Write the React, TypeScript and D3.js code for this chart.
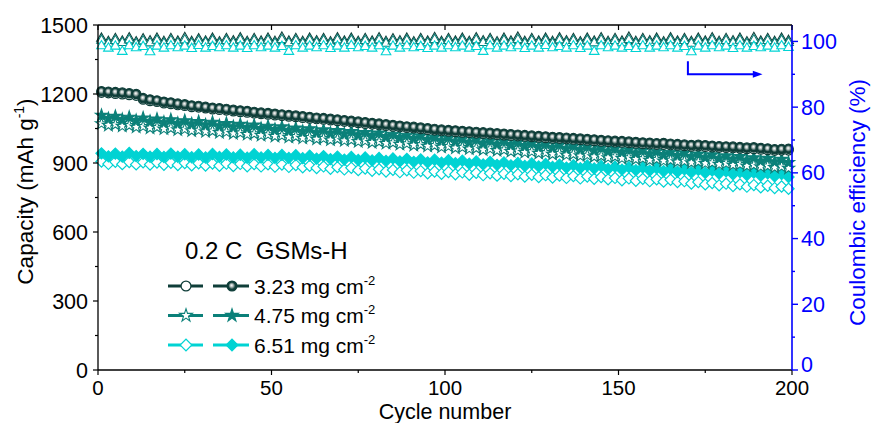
import React from 'react';
import * as d3 from 'd3';

// ---------- data ----------
const cycleNumbers: number[] = d3.range(1, 200, 2);

const cap323Discharge = [
  1212,1210,1208,1206,1203,1200,1182,1176,1172,1166,
  1163,1158,1155,1150,1148,1144,1140,1138,1135,1131,
  1128,1126,1122,1119,1117,1114,1111,1108,1106,1103,
  1100,1097,1095,1092,1089,1086,1083,1080,1077,1074,
  1071,1068,1065,1062,1059,1057,1054,1051,1048,1045,
  1043,1041,1039,1037,1035,1033,1031,1029,1027,1025,
  1023,1021,1019,1017,1015,1013,1012,1010,1008,1006,
  1004,1002,1000,998,996,995,993,991,989,988,
  986,987,984,982,980,978,979,977,975,973,
  972,971,969,967,968,965,963,960,961,962
];
const cap323Charge = [
  1206,1204,1201,1199,1196,1193,1176,1170,1166,1160,
  1157,1152,1149,1144,1142,1138,1134,1132,1129,1125,
  1122,1120,1116,1113,1111,1108,1105,1102,1100,1097,
  1094,1091,1089,1086,1083,1080,1077,1074,1071,1068,
  1065,1062,1059,1056,1053,1051,1048,1045,1042,1039,
  1037,1035,1033,1031,1029,1027,1025,1023,1021,1019,
  1017,1015,1013,1011,1009,1007,1006,1004,1002,1000,
  998,996,994,992,990,989,987,985,983,982,
  980,980,978,976,974,972,973,971,969,967,
  966,965,963,961,961,959,957,954,955,955
];
const cap475Discharge = [
  1107,1093,1103,1089,1099,1085,1096,1081,1091,1077,
  1088,1073,1084,1070,1080,1066,1077,1062,1072,1058,
  1068,1054,1065,1050,1060,1046,1057,1042,1052,1038,
  1049,1034,1044,1030,1041,1027,1037,1023,1033,1019,
  1030,1015,1025,1011,1021,1007,1018,1003,1013,999,
  1010,995,1005,991,1002,987,997,983,994,980,
  990,976,986,972,982,968,979,964,974,960,
  971,956,966,952,963,948,958,944,955,940,
  951,937,947,933,944,929,939,925,936,921,
  931,917,928,913,923,909,920,905,916,902
];
const cap475Charge = [
  1071,1064,1067,1060,1063,1056,1059,1052,1055,1048,
  1051,1044,1047,1040,1043,1036,1039,1032,1035,1028,
  1031,1024,1027,1020,1023,1016,1019,1012,1015,1008,
  1011,1004,1007,1000,1004,997,1000,993,996,989,
  992,985,988,981,984,977,980,973,976,969,
  972,965,968,961,964,957,961,954,957,950,
  953,946,949,942,945,938,942,935,938,931,
  934,927,930,923,927,920,923,916,919,912,
  916,909,912,905,908,901,905,898,901,894,
  898,891,894,887,891,884,887,880,884,877
];
const cap651Discharge = [
  942,929,941,928,944,930,940,927,939,926,
  941,927,938,925,937,924,939,926,937,924,
  936,923,938,924,935,922,935,922,934,921,
  932,919,930,917,928,915,926,913,924,911,
  922,909,920,907,918,905,916,903,914,901,
  912,899,910,897,907,894,905,892,903,890,
  900,887,898,885,896,883,893,880,891,878,
  889,876,887,874,884,871,882,869,880,867,
  877,864,875,862,872,859,870,857,867,854,
  864,851,861,848,858,845,855,842,852,839
];
const cap651Charge = [
  906,896,905,895,904,894,903,893,902,892,
  901,891,900,890,899,889,898,888,897,887,
  896,886,895,885,894,884,893,883,891,881,
  888,878,885,875,882,872,879,869,876,866,
  873,863,870,860,868,858,865,855,863,853,
  861,851,859,849,857,847,855,845,853,843,
  851,841,849,839,847,837,845,835,843,833,
  841,831,839,829,835,825,833,823,831,821,
  829,819,827,817,821,811,817,807,813,803,
  810,800,807,797,804,794,801,791,798,788
];
const ce323 = [
  100.9,99.9,100.8,100.0,101.0,99.8,100.7,100.1,100.9,99.9,
  100.8,100.0,101.1,99.9,100.7,100.0,100.9,99.8,100.8,100.1,
  101.0,99.9,100.8,100.0,100.9,99.9,101.2,100.0,100.8,99.9,
  100.9,100.1,100.8,99.8,101.0,100.0,100.9,99.9,100.8,100.0,
  101.0,99.9,100.7,100.1,100.9,99.8,100.8,100.0,101.1,99.9,
  100.8,100.0,100.9,99.9,101.0,100.1,100.8,99.8,100.9,100.0,
  101.2,99.9,100.8,100.0,100.9,99.9,101.0,100.1,100.8,99.8,
  100.9,100.0,101.0,99.9,100.8,100.0,101.2,99.9,100.8,100.1,
  100.9,99.8,101.0,100.0,100.8,99.9,100.9,100.0,101.0,99.9,
  100.8,100.1,100.9,99.8,101.1,100.0,100.8,99.9,100.9,100.2
];
const ce475 = [
  100.3,99.4,100.2,99.6,100.4,99.3,100.1,99.5,100.3,99.4,
  100.2,99.5,100.4,99.4,100.1,99.6,100.3,99.3,100.2,99.5,
  100.4,99.4,100.2,99.5,100.3,99.4,100.5,99.5,100.2,99.4,
  100.3,99.6,100.2,99.3,100.4,99.5,100.3,99.4,100.2,99.5,
  100.4,99.4,100.1,99.6,100.3,99.3,100.2,99.5,100.5,99.4,
  100.2,99.5,100.3,99.4,100.4,99.6,100.2,99.3,100.3,99.5,
  100.5,99.4,100.2,99.5,100.3,99.4,100.4,99.6,100.2,99.3,
  100.3,99.5,100.4,99.4,100.2,99.5,100.5,99.4,100.2,99.6,
  100.3,99.3,100.4,99.5,100.2,99.4,100.3,99.5,100.4,99.4,
  100.2,99.6,100.3,99.3,100.4,99.5,100.2,99.4,100.3,99.6
];
const ce651 = [
  98.6,97.9,98.5,96.9,98.6,98.0,98.4,96.8,98.5,97.9,
  98.6,98.0,98.5,97.8,98.7,97.9,98.4,98.0,98.6,97.9,
  98.5,97.8,98.6,98.0,98.5,97.9,98.4,96.9,98.6,97.9,
  98.5,98.0,98.6,97.8,98.5,97.9,98.7,98.0,98.4,97.9,
  98.6,96.8,98.5,97.9,98.6,98.0,98.4,97.8,98.5,97.9,
  98.6,98.0,98.5,97.9,98.4,96.9,98.6,97.9,98.5,98.0,
  98.6,97.8,98.5,97.9,98.7,98.0,98.4,97.9,98.6,97.8,
  98.5,96.9,98.6,98.0,98.5,97.9,98.4,97.8,98.6,97.9,
  98.5,98.0,98.6,97.9,98.4,96.8,98.5,97.9,98.6,98.0,
  98.5,97.8,98.6,97.9,98.4,98.0,98.5,97.9,98.6,98.1
];

const xTicks = [0, 50, 100, 150, 200];
const xMinorTicks = [25, 75, 125, 175];
const yTicks = [0, 300, 600, 900, 1200, 1500];
const yMinorTicks = [150, 450, 750, 1050, 1350];
const ceTicks = [0, 20, 40, 60, 80, 100];
const ceMinorTicks = [10, 30, 50, 70, 90];
const legendTitle = '0.2 C  GSMs-H';
const legendLoadings = ['3.23', '4.75', '6.51'];

// ---------- styling ----------
const W = 871, H = 423;
const X0 = 98, X1 = 792, Y0 = 370, Y1 = 25;
const DARK = '#0f3e39', TEAL = '#0b8079', CYAN = '#00d3d3', BLUE = '#0000ff';
const FONT = '"Liberation Sans", Arial, Helvetica, sans-serif';

type Shape = 'circle' | 'star' | 'diamond';

function Marker({ shape, x, y, color, filled, scale = 1 }: { shape: Shape; x: number; y: number; color: string; filled: boolean; scale?: number }) {
  const fill = filled ? (shape === 'circle' ? 'url(#sphere)' : color) : '#ffffff';
  if (shape === 'circle') {
    return <circle cx={x} cy={y} r={4.7 * scale} fill={fill} stroke={color} strokeWidth={1.2} />;
  }
  if (shape === 'star') {
    const p = d3.symbol(d3.symbolStar, 46 * scale * scale)()!;
    return <path d={p} transform={`translate(${x},${y})`} fill={fill} stroke={color} strokeWidth={1.1} />;
  }
  const p = d3.symbol(d3.symbolSquare, 62 * scale * scale)()!;
  return <path d={p} transform={`translate(${x},${y}) rotate(45)`} fill={fill} stroke={color} strokeWidth={1.2} />;
}

export default function App() {
  const x = d3.scaleLinear().domain([0, 200]).range([X0, X1]);
  const y = d3.scaleLinear().domain([0, 1500]).range([Y0, Y1]);
  const yCE = d3.scaleLinear().domain([0, 105]).range([Y0, Y1]);

  const lineCap = d3.line<number>().x((_, i) => x(cycleNumbers[i])).y((d) => y(d));
  const lineCE = d3.line<number>().x((_, i) => x(cycleNumbers[i])).y((d) => yCE(d));
  const tri = d3.symbol(d3.symbolTriangle, 40)()!;

  const ceSeries = [
    { data: ce323, color: DARK },
    { data: ce475, color: TEAL },
    { data: ce651, color: CYAN },
  ];
  const capSeries: { data: number[]; color: string; shape: Shape; filled: boolean }[] = [
    { data: cap651Charge, color: CYAN, shape: 'diamond', filled: false },
    { data: cap651Discharge, color: CYAN, shape: 'diamond', filled: true },
    { data: cap475Charge, color: TEAL, shape: 'star', filled: false },
    { data: cap475Discharge, color: TEAL, shape: 'star', filled: true },
    { data: cap323Charge, color: DARK, shape: 'circle', filled: false },
    { data: cap323Discharge, color: DARK, shape: 'circle', filled: true },
  ];
  const legendRows: { label: string; color: string; shape: Shape }[] = [
    { label: legendLoadings[0], color: DARK, shape: 'circle' },
    { label: legendLoadings[1], color: TEAL, shape: 'star' },
    { label: legendLoadings[2], color: CYAN, shape: 'diamond' },
  ];

  return (
    <svg width={W} height={H} viewBox={`0 0 ${W} ${H}`} style={{ position: 'absolute', left: 0, top: 0, background: '#fff' }} fontFamily={FONT}>
      <defs>
        <radialGradient id="sphere" cx="50%" cy="50%" r="50%" fx="45%" fy="42%">
          <stop offset="0" stopColor="#ffffff" />
          <stop offset="0.3" stopColor="#b8c2c0" />
          <stop offset="0.7" stopColor={DARK} />
          <stop offset="1" stopColor={DARK} />
        </radialGradient>
        <clipPath id="plotClip">
          <rect x={X0 - 6} y={Y1 - 6} width={X1 - X0 + 12} height={Y0 - Y1 + 12} />
        </clipPath>
      </defs>

      {/* CE series */}
      <g clipPath="url(#plotClip)">
        {ceSeries.map((s, si) => (
          <g key={'ce' + si}>
            <path d={lineCE(s.data)!} fill="none" stroke={s.color} strokeWidth={1.3} />
            {s.data.map((v, i) => (
              <path key={i} d={tri} transform={`translate(${x(cycleNumbers[i])},${yCE(v)})`} fill="#fff" stroke={s.color} strokeWidth={1.1} />
            ))}
          </g>
        ))}
        {/* capacity series */}
        {capSeries.map((s, si) => (
          <g key={'cap' + si}>
            <path d={lineCap(s.data)!} fill="none" stroke={s.color} strokeWidth={1.5} />
            {s.data.map((v, i) => (
              <Marker key={i} shape={s.shape} x={x(cycleNumbers[i])} y={y(v)} color={s.color} filled={s.filled} />
            ))}
          </g>
        ))}
      </g>

      {/* frame */}
      <line x1={X0} x2={X1} y1={Y1} y2={Y1} stroke="#000" strokeWidth={1.3} />
      <line x1={X0} x2={X1} y1={Y0} y2={Y0} stroke="#000" strokeWidth={1.3} />
      <line x1={X0} x2={X0} y1={Y1} y2={Y0} stroke="#000" strokeWidth={1.3} />
      <line x1={X1} x2={X1} y1={Y1} y2={Y0} stroke={BLUE} strokeWidth={1.6} />

      {/* bottom axis */}
      {xTicks.map((t) => (
        <g key={'xt' + t}>
          <line x1={x(t)} x2={x(t)} y1={Y0} y2={Y0 + 5} stroke="#000" strokeWidth={1.2} />
          <line x1={x(t)} x2={x(t)} y1={Y1} y2={Y1 + 5} stroke="#000" strokeWidth={1.2} />
          <text x={x(t)} y={Y0 + 25} textAnchor="middle" fontSize={20.5} fill="#000">{t}</text>
        </g>
      ))}
      {xMinorTicks.map((t) => (
        <g key={'xm' + t}>
          <line x1={x(t)} x2={x(t)} y1={Y0} y2={Y0 + 3} stroke="#000" strokeWidth={1.2} />
          <line x1={x(t)} x2={x(t)} y1={Y1} y2={Y1 + 3} stroke="#000" strokeWidth={1.2} />
        </g>
      ))}
      <text x={(X0 + X1) / 2} y={419} textAnchor="middle" fontSize={21.5} fill="#000">Cycle number</text>

      {/* left axis */}
      {yTicks.map((t) => (
        <g key={'yt' + t}>
          <line x1={X0 - 5} x2={X0} y1={y(t)} y2={y(t)} stroke="#000" strokeWidth={1.2} />
          <text x={X0 - 10} y={y(t) + 7.5} textAnchor="end" fontSize={21.5} fill="#000">{t}</text>
        </g>
      ))}
      {yMinorTicks.map((t) => (
        <line key={'ym' + t} x1={X0 - 3} x2={X0} y1={y(t)} y2={y(t)} stroke="#000" strokeWidth={1.2} />
      ))}
      <text transform={`translate(33,${(Y0 + Y1) / 2 - 6}) rotate(-90)`} textAnchor="middle" fontSize={22.5} fill="#000">
        Capacity (mAh g<tspan dy={-9} fontSize={14}>-1</tspan><tspan dy={9}>)</tspan>
      </text>

      {/* right axis */}
      {ceTicks.map((t) => (
        <g key={'ct' + t}>
          <line x1={X1} x2={X1 + 6} y1={yCE(t)} y2={yCE(t)} stroke={BLUE} strokeWidth={1.4} />
          <text x={X1 + 9} y={yCE(t) + (t === 0 ? 2 : 7.5)} textAnchor="start" fontSize={21.5} fill={BLUE}>{t}</text>
        </g>
      ))}
      {ceMinorTicks.map((t) => (
        <line key={'cm' + t} x1={X1} x2={X1 + 3} y1={yCE(t)} y2={yCE(t)} stroke={BLUE} strokeWidth={1.4} />
      ))}
      <text transform={`translate(865,${(Y0 + Y1) / 2 + 5}) rotate(-90)`} textAnchor="middle" fontSize={22.5} fill={BLUE}>
        Coulombic efficiency (%)
      </text>

      {/* arrow annotation */}
      <path d={`M${x(170)},${yCE(94)} V${yCE(90)} H${x(189)}`} fill="none" stroke={BLUE} strokeWidth={2} />
      <path d={`M${x(189) - 1},${yCE(90) - 3.5} L${x(191.5)},${yCE(90)} L${x(189) - 1},${yCE(90) + 3.5} Z`} fill={BLUE} />

      {/* legend */}
      <text x={185} y={259} fontSize={24} fill="#000" style={{ whiteSpace: 'pre' }}>{legendTitle}</text>
      {legendRows.map((r, i) => {
        const cy = 286 + i * 29.5;
        return (
          <g key={'lg' + i}>
            <line x1={168} x2={203} y1={cy} y2={cy} stroke={r.color} strokeWidth={3} />
            <Marker shape={r.shape} x={186} y={cy} color={r.color} filled={false} scale={1.05} />
            <line x1={213} x2={249} y1={cy} y2={cy} stroke={r.color} strokeWidth={3} />
            <Marker shape={r.shape} x={232} y={cy} color={r.color} filled={true} scale={1.05} />
            <text x={254} y={cy + 7.5} fontSize={21} fill="#000">
              {r.label} mg cm<tspan dy={-9} fontSize={13}>-2</tspan>
            </text>
          </g>
        );
      })}
    </svg>
  );
}
